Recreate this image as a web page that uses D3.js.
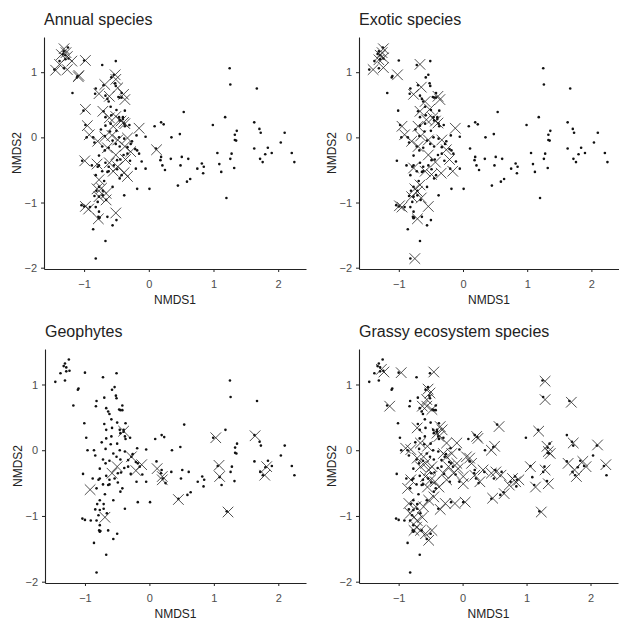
<!DOCTYPE html>
<html>
<head>
<meta charset="utf-8">
<script src="https://cdn.jsdelivr.net/npm/d3@7"></script>
<style>
  body { margin: 0; background: #fff; }
  svg { font-family: "Liberation Sans", Arial, sans-serif; }
  .tick text { fill: #4d4d4d; font-size: 11px; }
  .domain, .tick line { stroke: #222; }
</style>
</head>
<body>
<div id="chart"></div>
<script>
// site scores (NMDS1, NMDS2) - every site, drawn as a dot in each panel
const sites = [
  [-1.25,1.38],[-1.31,1.32],[-1.33,1.28],[-1.29,1.26],[-1.24,1.21],[-1.29,1.20],[-1.38,1.17],[-1.46,1.04],
  [-1.31,1.06],[-1.10,0.94],[-1.11,0.92],[-1.18,0.68],[-1.00,1.18],[-0.72,1.11],[-0.51,1.17],
  [-1.01,0.41],[-0.98,0.19],[-0.96,0.00],[-1.03,-0.36],[-0.86,0.00],[-0.84,-0.08],[-0.82,0.75],[-0.83,0.67],
  [-0.70,0.80],[-0.67,0.64],[-0.64,0.59],[-0.62,0.55],[-0.58,0.92],[-0.54,0.96],[-0.52,0.83],[-0.51,0.79],
  [-0.47,0.62],[-0.45,0.61],[-0.42,0.61],[-0.42,0.68],[-0.59,0.47],[-0.70,0.40],[-0.67,0.31],[-0.58,0.34],
  [-0.50,0.42],[-0.37,0.41],[-0.40,0.31],[-0.46,0.31],[-0.45,0.26],[-0.40,0.28],[-0.38,0.21],[-0.37,0.17],
  [-0.30,0.19],[-0.59,0.21],[-0.67,0.18],[-0.74,0.12],[-0.60,0.09],[-0.50,0.10],[-0.46,0.00],[-0.68,0.02],
  [-0.56,-0.05],[-0.72,-0.14],[-0.68,-0.20],[-0.62,-0.16],[-0.51,-0.10],[-0.38,-0.02],[-0.45,-0.14],[-0.33,-0.15],
  [-0.28,-0.10],[-0.26,-0.06],[-0.19,0.03],[-0.05,0.01],[-0.21,-0.18],[-0.18,-0.20],[-0.15,-0.25],[-0.33,-0.25],
  [-0.29,-0.36],[-0.39,-0.27],[-0.44,-0.34],[-0.49,-0.35],[-0.54,-0.43],[-0.49,-0.49],[-0.62,-0.45],[-0.67,-0.39],
  [-0.77,-0.43],[-0.79,-0.45],[-0.88,-0.43],[-0.77,-0.28],[-0.82,-0.58],[-0.72,-0.52],[-0.64,-0.53],[-0.62,-0.52],
  [-0.42,-0.58],[-0.45,-0.63],[-0.56,-0.76],[-0.38,-0.89],[-0.20,-0.48],[-0.05,-0.48],[-0.18,-0.79],[0.01,-0.79],
  [-0.69,-0.67],[-0.77,-0.76],[-0.81,-0.82],[-0.71,-0.82],[-0.71,-0.89],[-0.84,-0.90],[-0.77,-0.91],[-0.79,-0.99],
  [-1.04,-1.04],[-1.00,-1.06],[-0.91,-1.07],[-0.82,-1.07],[-0.66,-0.96],[-0.77,-1.14],[-0.78,-1.22],[-0.77,-1.24],
  [-0.76,-1.23],[-0.64,-1.22],[-0.50,-1.27],[-0.56,-1.35],[-0.86,-1.41],[-0.67,-1.59],[-0.82,-1.86],[-0.11,-0.37],
  [0.11,-0.17],[0.19,0.23],[0.23,0.20],[0.09,0.17],[0.35,0.00],[0.48,0.05],[0.54,0.39],[0.19,-0.30],
  [0.18,-0.35],[0.21,-0.43],[0.25,-0.50],[0.34,-0.33],[0.49,-0.43],[0.51,-0.30],[0.61,-0.33],[0.59,-0.68],
  [0.64,-0.64],[0.45,-0.74],[0.75,-0.48],[0.82,-0.40],[0.85,-0.45],[0.84,-0.55],[0.99,0.19],[1.18,0.31],
  [1.06,-0.24],[1.09,-0.41],[1.12,-0.53],[1.25,1.06],[1.26,0.81],[1.28,-0.25],[1.26,-0.33],[1.32,-0.47],
  [1.33,-0.04],[1.35,-0.05],[1.33,0.04],[1.36,0.10],[1.20,-0.93],[1.67,0.75],[1.63,0.23],[1.71,0.13],
  [1.73,0.07],[1.63,-0.17],[1.72,-0.33],[1.76,-0.38],[1.80,-0.26],[1.84,-0.16],[1.90,-0.24],[2.04,-0.08],
  [2.10,0.07],[2.21,-0.24],[2.25,-0.38]
];

// sites where each group occurs (drawn as crosses)
const annualX = [
  [-1.31,1.36],[-1.28,1.30],[-1.35,1.27],[-1.26,1.24],[-1.19,1.17],[-1.38,1.12],[-1.44,1.03],[-1.26,1.04],
  [-0.98,1.18],[-1.08,0.95],[-1.09,0.93],[-0.52,0.96],[-0.51,0.89],[-0.68,0.81],[-0.77,0.67],[-0.61,0.63],
  [-0.39,0.66],[-0.37,0.58],[-0.48,0.76],[-0.98,0.43],[-0.71,0.40],[-0.95,0.18],[-0.61,0.30],[-0.51,0.32],
  [-0.43,0.25],[-0.39,0.23],[-0.37,0.21],[-0.55,0.17],[-0.15,0.14],[-0.92,0.04],[-0.79,-0.06],[-0.68,0.01],
  [-0.57,0.03],[-0.48,-0.04],[-0.33,-0.01],[-0.37,-0.14],[-0.28,-0.22],[-0.64,-0.16],[-0.51,-0.27],[-0.36,-0.34],
  [0.12,-0.19],[-0.99,-0.36],[-0.80,-0.41],[-0.61,-0.39],[-0.55,-0.52],[-0.48,-0.45],[-0.38,-0.54],[-0.33,-0.60],
  [-0.77,-0.65],[-0.80,-0.79],[-0.73,-0.78],[-0.66,-0.86],[-0.77,-0.91],[-0.66,-0.96],[-0.98,-1.06],[-0.93,-1.10],
  [-0.51,-1.16],[-0.78,-1.25]
];
const exoticX = [
  [-1.24,1.36],[-1.26,1.30],[-1.29,1.26],[-1.24,1.22],[-1.31,1.19],[-1.40,1.04],[-1.24,1.07],[-1.02,0.96],
  [-0.67,1.12],[-0.65,0.77],[-0.77,0.66],[-0.59,0.55],[-0.39,0.63],[-0.36,0.58],[-0.52,0.43],[-0.67,0.40],
  [-0.95,0.17],[-0.57,0.27],[-0.47,0.30],[-0.43,0.25],[-0.39,0.22],[-0.70,0.17],[-0.12,0.14],[-0.91,0.04],
  [-0.80,-0.06],[-0.66,0.02],[-0.70,-0.14],[-0.54,-0.04],[-0.33,-0.04],[-0.26,-0.19],[-0.21,-0.34],[-0.54,-0.27],
  [-0.43,-0.38],[-0.16,-0.52],[-0.34,-0.55],[-0.77,-0.47],[-0.59,-0.52],[-0.49,-0.57],[-0.75,-0.79],[-0.71,-0.83],
  [-0.67,-0.73],[-0.65,-0.93],[-0.80,-0.91],[-0.54,-1.06],[-0.99,-1.05],[-0.95,-1.07],[-0.71,-1.25],[-0.75,-1.86]
];
const geophyteX = [
  [-0.40,0.29],[-0.28,-0.10],[-0.50,-0.25],[-0.58,-0.35],[-0.12,-0.22],[-0.21,-0.31],[0.12,-0.28],[0.20,-0.40],
  [0.20,-0.45],[-0.92,-0.60],[-0.69,-1.02],[0.45,-0.75],[1.03,0.19],[1.08,-0.23],[1.09,-0.40],[1.22,-0.94],
  [1.64,0.22],[1.82,-0.25],[1.79,-0.38]
];
const grassyX = [
  [-1.27,1.23],[-1.23,1.19],[-0.96,1.18],[-1.14,0.67],[-0.45,1.19],[-0.54,0.93],[-0.51,0.87],[-0.56,0.77],
  [-0.63,0.67],[-0.56,0.67],[-0.48,0.62],[-0.35,0.36],[-0.32,0.31],[-0.40,0.26],[-0.37,0.21],[-0.71,0.34],
  [-0.89,0.03],[-0.81,0.01],[-0.66,0.11],[-0.55,0.06],[-0.25,0.11],[-0.09,0.11],[-0.17,-0.05],[0.22,0.21],
  [0.24,0.18],[0.14,-0.20],[0.19,-0.38],[0.32,-0.30],[0.45,0.00],[0.50,0.06],[0.57,0.36],[0.52,-0.33],
  [0.60,-0.38],[0.45,-0.35],[0.27,-0.48],[0.47,-0.73],[0.65,-0.66],[0.78,-0.43],[0.83,-0.48],[0.88,-0.45],
  [0.73,-0.53],[1.06,-0.25],[1.14,-0.56],[1.19,0.29],[1.29,1.05],[1.29,0.77],[1.32,0.06],[1.34,-0.02],
  [1.37,-0.05],[1.29,-0.30],[1.34,-0.51],[1.23,-0.94],[1.70,0.73],[1.73,0.11],[1.65,-0.20],[1.75,-0.30],
  [1.78,-0.40],[1.93,-0.25],[1.88,-0.17],[2.11,0.08],[2.24,-0.22],
  [-0.30,-0.05],[-0.25,-0.10],[-0.66,-0.25],[-0.58,-0.20],[-0.53,-0.30],[-0.48,-0.25],[-0.71,-0.12],[-0.61,-0.10],
  [-0.81,-0.45],[-0.86,-0.58],[-0.58,-0.40],[-0.50,-0.45],[-0.43,-0.48],[-0.37,-0.56],[-0.45,-0.71],[-0.53,-0.76],
  [-0.35,-0.90],[-0.27,-0.81],[-0.12,-0.81],[0.04,-0.79],[-0.22,-0.25],[-0.14,-0.35],[-0.09,-0.20],[-0.07,-0.28],
  [-0.30,-0.35],[-0.25,-0.45],[0.01,-0.51],[0.01,-0.40],[0.06,-0.10],[0.11,-0.12],
  [-0.82,-0.96],[-0.76,-1.02],[-0.71,-1.07],[-0.72,-1.17],[-0.76,-1.22],[-0.66,-1.22],[-0.58,-1.27],[-0.53,-1.37],
  [-0.48,-1.22],[-0.84,-0.81],[-0.73,-0.86],[-0.63,-1.02],[-0.61,-0.86],[-0.55,-0.56]
];

const panelTitles = ['Annual species', 'Exotic species', 'Geophytes', 'Grassy ecosystem species'];
const xTicks = [-1, 0, 1, 2];
const yTicks = [-2, -1, 0, 1];

const width = 619, height = 624;

const boxes = [
  {left: 44, right: 306, top: 37, bottom: 269},
  {left: 359, right: 619, top: 37, bottom: 269},
  {left: 45, right: 306, top: 349, bottom: 583},
  {left: 359, right: 618, top: 349, bottom: 583}
];
const marks = [annualX, exoticX, geophyteX, grassyX];

let svg = d3.select('#chart').append('svg')
  .attr('width', width)
  .attr('height', height);

boxes.forEach((b, i) => {
  let x = d3.scaleLinear().domain([-1.62, 2.43]).range([b.left, b.right]);
  let y = d3.scaleLinear().domain([-2.02, 1.54]).range([b.bottom, b.top]);

  let g = svg.append('g');

  g.append('g')
    .attr('transform', 'translate(0,' + b.bottom + ')')
    .call(d3.axisBottom(x).tickValues(xTicks).tickFormat(d3.format('d'))
      .tickSize(3).tickPadding(8).tickSizeOuter(0));

  g.append('g')
    .attr('transform', 'translate(' + b.left + ',0)')
    .call(d3.axisLeft(y).tickValues(yTicks).tickFormat(d3.format('d'))
      .tickSize(3).tickPadding(4).tickSizeOuter(0));

  g.selectAll('.domain').attr('stroke-width', 1.1);

  // dots for all sites
  g.selectAll('.site')
    .data(sites)
    .enter()
    .append('circle')
    .attr('class', 'site')
    .attr('cx', d => x(d[0]))
    .attr('cy', d => y(d[1]))
    .attr('r', 1.3)
    .attr('fill', '#111');

  // crosses where the group is present
  const s = 5.3;
  g.selectAll('.cross')
    .data(marks[i])
    .enter()
    .append('path')
    .attr('class', 'cross')
    .attr('d', d => {
      let cx = x(d[0]), cy = y(d[1]);
      return 'M' + (cx - s) + ',' + (cy - s) + 'L' + (cx + s) + ',' + (cy + s) +
             'M' + (cx - s) + ',' + (cy + s) + 'L' + (cx + s) + ',' + (cy - s);
    })
    .attr('stroke', '#222')
    .attr('stroke-width', 0.8)
    .attr('fill', 'none');

  // titles
  g.append('text')
    .attr('x', b.left)
    .attr('y', b.top - 12)
    .attr('font-size', 16)
    .attr('fill', '#222')
    .text(panelTitles[i]);

  g.append('text')
    .attr('x', (b.left + b.right) / 2)
    .attr('y', b.bottom + 35)
    .attr('text-anchor', 'middle')
    .attr('font-size', 12)
    .attr('fill', '#222')
    .text('NMDS1');

  g.append('text')
    .attr('transform', 'translate(' + (b.left - 27) + ',' + ((b.top + b.bottom) / 2) + ') rotate(-90)')
    .attr('dy', '0.35em')
    .attr('text-anchor', 'middle')
    .attr('font-size', 12)
    .attr('fill', '#222')
    .text('NMDS2');
});
</script>
</body>
</html>
